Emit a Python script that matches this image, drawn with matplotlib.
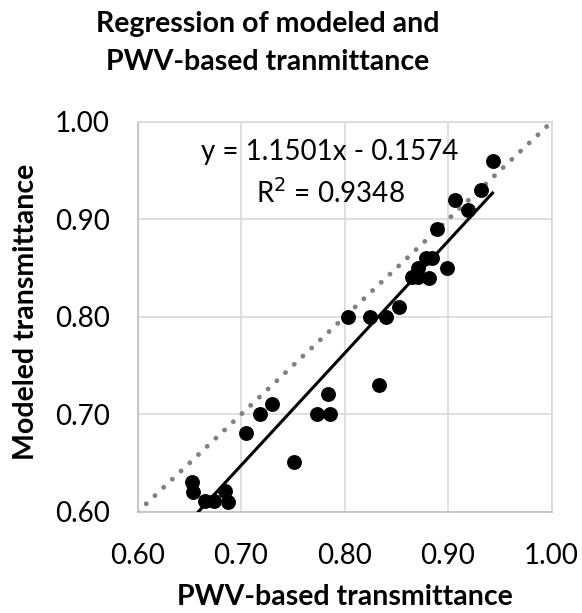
import matplotlib
matplotlib.use('Agg')
import matplotlib.pyplot as plt
import numpy as np

# PWV-based vs modeled transmittance
pwv = [0.943, 0.932, 0.907, 0.919, 0.889, 0.879, 0.885, 0.871, 0.899, 0.865,
       0.871, 0.882, 0.853, 0.840, 0.825, 0.803, 0.833, 0.784, 0.773, 0.786,
       0.730, 0.718, 0.705, 0.751, 0.653, 0.654, 0.665, 0.674, 0.685, 0.687]
modeled = [0.960, 0.930, 0.920, 0.910, 0.890, 0.861, 0.861, 0.850, 0.850, 0.841,
           0.841, 0.840, 0.810, 0.800, 0.800, 0.800, 0.730, 0.721, 0.700, 0.700,
           0.711, 0.700, 0.681, 0.651, 0.631, 0.621, 0.611, 0.611, 0.622, 0.610]

slope = 1.1501
intercept = -0.1574
r2 = 0.9348
ticks = [0.60, 0.70, 0.80, 0.90, 1.00]

plt.rcParams['font.family'] = ['Lato', 'DejaVu Sans']

fig = plt.figure(figsize=(5.82, 6.13), dpi=100)
ax = fig.add_axes([0.2363, 0.1648, 0.7113, 0.6362])

# grid
ax.grid(True, color='#d9d9d9', linewidth=1.2, zorder=0)
ax.set_axisbelow(True)
for s in ax.spines.values():
    s.set_color('#d9d9d9')
    s.set_linewidth(1.2)
ax.spines['left'].set_color('#bfbfbf')
ax.spines['bottom'].set_color('#bfbfbf')

# 1:1 line (dotted)
ax.plot([0.6, 1.0], [0.6, 1.0], color='#808080', linestyle=(0, (0.01, 2.45)),
        linewidth=3.5, dash_capstyle='round', zorder=2)

ax.scatter(pwv, modeled, s=115, color='black', zorder=3, linewidths=0)

# linear trendline
xs = np.array([min(pwv) + 0.006, max(pwv)])
ax.plot(xs, slope * xs + intercept, color='black', linewidth=2.2, zorder=4)

ax.text(0.786, 0.969, 'y = 1.1501x - 0.1574', ha='center', va='center', fontsize=20)
ax.text(0.786, 0.927, 'R$^2$ = %.4f' % r2, ha='center', va='center', fontsize=20)

ax.set_xlim(0.6, 1.0)
ax.set_ylim(0.6, 1.0)
ax.set_xticks(ticks)
ax.set_yticks(ticks)
ax.set_xticklabels(['%.2f' % t for t in ticks])
ax.set_yticklabels(['%.2f' % t for t in ticks])
ax.tick_params(length=0, labelsize=20)
ax.tick_params(axis='x', pad=22)
ax.tick_params(axis='y', pad=20)

ax.set_xlabel('PWV-based transmittance', fontsize=20.5, fontweight='bold')
ax.set_ylabel('Modeled transmittance', fontsize=20.5, fontweight='bold')
ax.xaxis.set_label_coords(0.501, -0.218)
ax.xaxis.label.set_va('center')
ax.yaxis.set_label_coords(-0.27, 0.513)
ax.yaxis.label.set_va('center')

fig.text(0.4605, 1 - 32 / 613, 'Regression of modeled and', ha='center',
         va='baseline', fontsize=20.5, fontweight='bold')
fig.text(0.4605, 1 - 70 / 613, 'PWV-based tranmittance', ha='center',
         va='baseline', fontsize=20.5, fontweight='bold')

fig.savefig('out.png', dpi=100, facecolor='white')
